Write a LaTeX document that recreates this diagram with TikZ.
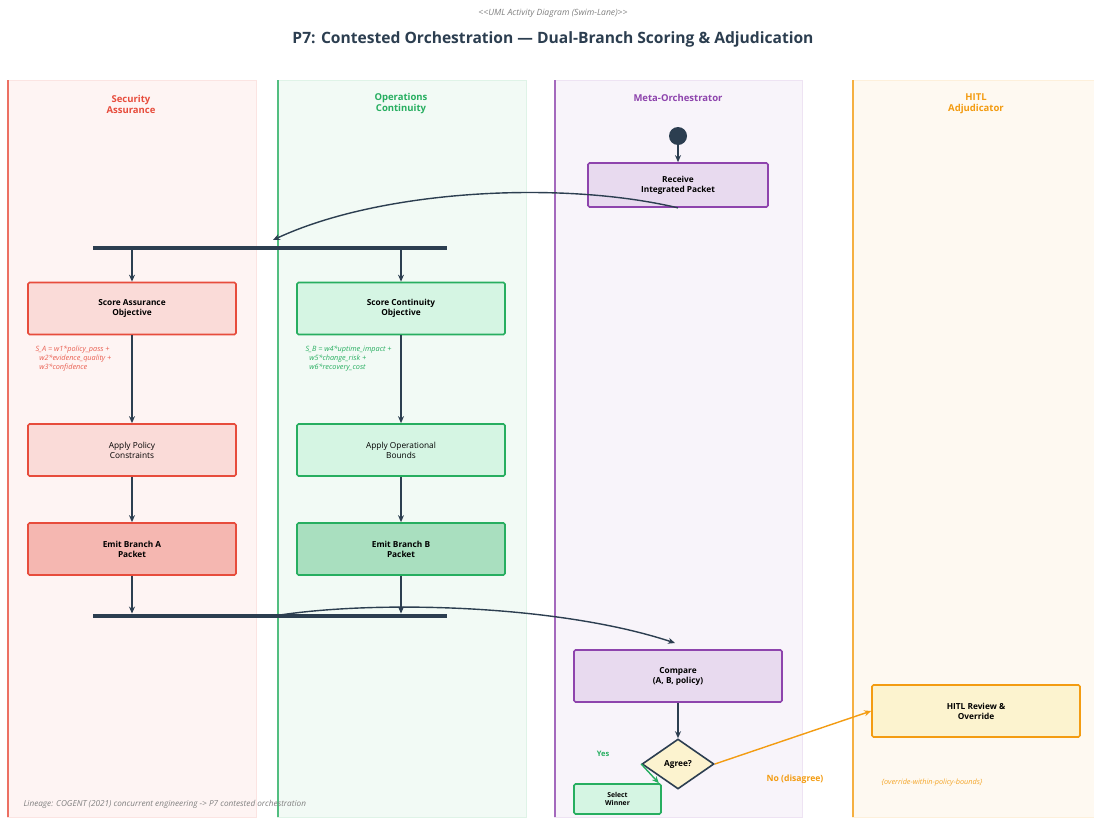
\documentclass[tikz,border=0pt]{standalone}
\usepackage{fontspec}
\setmainfont{Open Sans}
\usetikzlibrary{arrows.meta,shapes.geometric}

\definecolor{ink}{HTML}{2C3E50}
\definecolor{secred}{HTML}{E74C3C}
\definecolor{opsgreen}{HTML}{27AE60}
\definecolor{metapurple}{HTML}{8E44AD}
\definecolor{hitlorange}{HTML}{F39C12}
\definecolor{cream}{HTML}{FCF3CF}
\definecolor{redpale}{HTML}{FADBD8}
\definecolor{redmid}{HTML}{F5B7B1}
\definecolor{greenpale}{HTML}{D5F5E3}
\definecolor{greenmid}{HTML}{A9DFBF}
\definecolor{purplepale}{HTML}{E8DAEF}

\tikzset{
	act/.style={draw=#1, line width=1.7pt, rounded corners=1.5pt, minimum width=208pt, minimum height=52pt, align=center, font=\fontsize{8.3}{10}\selectfont},
	bar/.style={fill=ink, minimum width=354pt, minimum height=4.5pt, inner sep=0pt},
	flow/.style={->, ink, line width=1.4pt},
	lanetitle/.style={font=\fontsize{9.5}{11}\selectfont\bfseries, align=center},
	formula/.style={font=\fontsize{7.3}{9}\selectfont\itshape, align=left, anchor=north west}
}

\begin{document}
\begin{tikzpicture}[x=1pt, y=-1pt, >={Stealth[length=7pt,width=6pt]}]
	\useasboundingbox[fill=white] (0,0) rectangle (1094,817);

	% lanes
	\foreach \x/\w/\c in {7/249/secred, 277/249/opsgreen, 554/248/metapurple, 852/242/hitlorange} {
		\filldraw[fill=\c!6, draw=\c!15, line width=0.6pt] (\x,80) rectangle ++(\w,737);
		\draw[\c!80, line width=1.1pt] (\x+1,80) -- (\x+1,817);
	}
	\node[lanetitle, text=secred] (lsec) at (131,104) {Security\\Assurance};
	\node[lanetitle, text=opsgreen] (lops) at (401,104) {Operations\\Continuity};
	\node[lanetitle, text=metapurple] (lmeta) at (678,98) {Meta-Orchestrator};
	\node[lanetitle, text=hitlorange] (lhitl) at (976,104) {HITL\\Adjudicator};

	% heading
	\node[text=gray, font=\fontsize{8.6}{10}\selectfont\itshape] (stereo) at (553,13) {<{}<UML Activity Diagram (Swim-Lane)>{}>};
	\node[text=ink, font=\fontsize{15.6}{18}\selectfont\bfseries] (title) at (553,39) {P7: Contested Orchestration — Dual-Branch Scoring \& Adjudication};

	% meta-orchestrator start
	\node[circle, fill=ink, minimum size=18pt, inner sep=0pt] (start) at (678,136) {};
	\node[act=metapurple, fill=purplepale, minimum width=180pt, minimum height=44pt, font=\fontsize{8.3}{10}\selectfont\bfseries] (recv) at (678,185) {Receive\\Integrated Packet};
	\draw[flow] (start) -- (recv);

	% fork
	\node[bar] (fork) at (270,248) {};
	\coordinate (forkin) at (273,240);
	\draw[flow] (recv.south) .. controls (560,180) and (380,190) .. (forkin);

	% branch A
	\node[act=secred, fill=redpale, font=\fontsize{8.3}{10}\selectfont\bfseries] (scorea) at (132,308.5) {Score Assurance\\Objective};
	\node[act=secred, fill=redpale] (policy) at (132,450) {Apply Policy\\Constraints};
	\node[act=secred, fill=redmid, font=\fontsize{8.3}{10}\selectfont\bfseries] (emita) at (132,549) {Emit Branch A\\Packet};
	\node[formula, text=secred!90] (fa) at (32,342) {S\_A = w1*policy\_pass +\\\ \ w2*evidence\_quality +\\\ \ w3*confidence};

	% branch B
	\node[act=opsgreen, fill=greenpale, font=\fontsize{8.3}{10}\selectfont\bfseries] (scoreb) at (401,308.5) {Score Continuity\\Objective};
	\node[act=opsgreen, fill=greenpale] (bounds) at (401,450) {Apply Operational\\Bounds};
	\node[act=opsgreen, fill=greenmid, font=\fontsize{8.3}{10}\selectfont\bfseries] (emitb) at (401,549) {Emit Branch B\\Packet};
	\node[formula, text=opsgreen] (fb) at (302,342) {S\_B = w4*uptime\_impact +\\\ \ w5*change\_risk +\\\ \ w6*recovery\_cost};

	% join
	\node[bar] (join) at (270,616) {};

	\draw[flow] (fork.south -| scorea) -- (scorea);
	\draw[flow] (fork.south -| scoreb) -- (scoreb);
	\draw[flow] (scorea) -- (policy);
	\draw[flow] (scoreb) -- (bounds);
	\draw[flow] (policy) -- (emita);
	\draw[flow] (bounds) -- (emitb);
	\draw[flow] (emita) -- (join.north -| emita);
	\draw[flow] (emitb) -- (join.north -| emitb);

	% adjudication
	\node[act=metapurple, fill=purplepale, font=\fontsize{8.3}{10}\selectfont\bfseries] (compare) at (678,676) {Compare\\(A, B, policy)};
	\coordinate (joinout) at (280,615);
	\coordinate (cmpin) at (675,643);
	\draw[flow] (joinout) .. controls (380,600) and (560,605) .. (cmpin);

	\node[diamond, draw=ink, line width=1.6pt, fill=cream, minimum width=72pt, minimum height=50pt, inner sep=0pt, font=\fontsize{8.3}{10}\selectfont\bfseries] (agree) at (678,764) {Agree?};
	\draw[flow] (compare) -- (agree);

	\node[act=opsgreen, fill=greenpale, minimum width=87pt, minimum height=30pt, font=\fontsize{6.8}{8.5}\selectfont\bfseries] (winner) at (617.5,799) {Select\\Winner};
	\draw[->, opsgreen, line width=1.4pt] (agree.west) -- ([xshift=-3pt]winner.north east);
	\node[text=opsgreen, font=\fontsize{7.5}{9}\selectfont\bfseries] (yes) at (603,754) {Yes};

	\node[act=hitlorange, fill=cream, font=\fontsize{8.3}{10}\selectfont\bfseries] (hitl) at (976,711) {HITL Review \&\\Override};
	\draw[->, hitlorange, line width=1.4pt] (agree.east) -- (hitl.west);
	\node[text=hitlorange, font=\fontsize{8.6}{10}\selectfont\bfseries] (no) at (795,779) {No (disagree)};
	\node[text=hitlorange!90, font=\fontsize{7.3}{9}\selectfont\itshape] (bounded) at (932,783) {\{override-within-policy-bounds\}};

	\node[text=gray, font=\fontsize{8.2}{10}\selectfont\itshape, anchor=west] (lineage) at (20,804) {Lineage: COGENT (2021) concurrent engineering -> P7 contested orchestration};
\end{tikzpicture}
\end{document}
